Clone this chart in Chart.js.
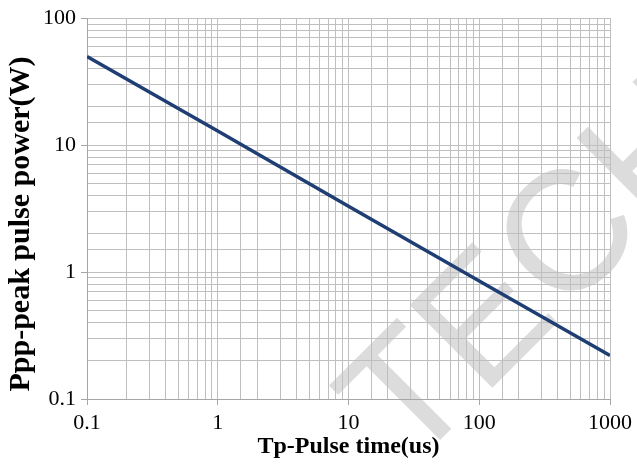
<!DOCTYPE html>
<html>
<head>
<meta charset="utf-8">
<script src="https://cdn.jsdelivr.net/npm/chart.js@4.4.1/dist/chart.umd.min.js"></script>
<style>
  html, body { margin: 0; padding: 0; background: #ffffff; }
  #wrap { width: 637px; height: 473px; }
</style>
</head>
<body>
<div id="wrap"><canvas id="c" width="637" height="473"></canvas></div>
<script>
// Data (log-log straight line)
const pulseTime = [0.1, 1, 10, 100, 1000];          // Tp (us)
const peakPower = [50, 12.9, 3.3, 0.85, 0.22];      // Ppp (W)
const xTickLabels = ['0.1', '1', '10', '100', '1000'];
const yTickLabels = ['0.1', '1', '10', '100'];
const xTitle = 'Tp-Pulse time(us)';
const yTitle = 'Ppp-peak pulse power(W)';

const points = pulseTime.map((t, i) => ({ x: t, y: peakPower[i] }));

function isDecade(v) {
  const l = Math.log10(v);
  return Math.abs(l - Math.round(l)) < 1e-9;
}
function decadeLabel(v, list) {
  if (!isDecade(v)) return '';
  const s = String(Number(v.toPrecision(6)));
  return list.includes(s) ? s : '';
}

const watermark = {
  id: 'watermark',
  beforeDraw(chart) {
    const ctx = chart.ctx;
    ctx.save();
    ctx.translate(409, 471);
    ctx.rotate(-45 * Math.PI / 180);
    ctx.font = '170px "Liberation Sans"';
    ctx.fillStyle = '#dcdcdc';
    ctx.textBaseline = 'alphabetic';
    ctx.textAlign = 'left';
    ctx.fillText('TECH', 0, 0);
    ctx.restore();
  }
};

// y-axis title drawn as canvas text, positioned like the reference
const yTitlePlugin = {
  id: 'yTitle',
  afterDraw(chart) {
    const ctx = chart.ctx;
    ctx.save();
    ctx.translate(21, 224);
    ctx.rotate(-Math.PI / 2);
    ctx.font = 'bold 30px "Liberation Serif"';
    ctx.fillStyle = '#000';
    ctx.textAlign = 'center';
    ctx.textBaseline = 'middle';
    ctx.fillText(yTitle, 0, 0);
    ctx.restore();
  }
};

const gridColor = '#bfbfbf';
const axisColor = '#a6a6a6';

new Chart(document.getElementById('c'), {
  type: 'scatter',
  data: {
    datasets: [{
      data: points,
      showLine: true,
      borderColor: '#1f3f74',
      borderWidth: 3.5,
      pointRadius: 0,
      fill: false,
      tension: 0
    }]
  },
  options: {
    responsive: false,
    animation: false,
    devicePixelRatio: 1,
    layout: { padding: { top: 15, right: 25, left: 0, bottom: 0 } },
    plugins: { legend: { display: false }, tooltip: { enabled: false } },
    scales: {
      x: {
        type: 'logarithmic',
        min: 0.1,
        max: 1000,
        afterFit(s) { s.height = 74; },
        grid: {
          color: gridColor,
          lineWidth: 1,
          tickLength: 6,
          tickColor: (c) => (c.tick && isDecade(c.tick.value)) ? axisColor : 'rgba(0,0,0,0)'
        },
        border: { color: axisColor, width: 1 },
        ticks: {
          autoSkip: false,
          maxRotation: 0,
          padding: 5,
          color: '#000',
          font: { family: '"Liberation Serif"', size: 22 },
          callback: (v) => decadeLabel(v, xTickLabels)
        },
        title: {
          display: true,
          text: xTitle,
          color: '#000',
          font: { family: '"Liberation Serif"', size: 24, weight: 'bold' },
          padding: { top: 0, bottom: 12 }
        }
      },
      y: {
        type: 'logarithmic',
        min: 0.1,
        max: 100,
        afterFit(s) { s.width = 87; },
        grid: {
          color: gridColor,
          lineWidth: 1,
          tickLength: 6,
          tickColor: (c) => (c.tick && isDecade(c.tick.value)) ? axisColor : 'rgba(0,0,0,0)'
        },
        border: { color: axisColor, width: 1 },
        ticks: {
          autoSkip: false,
          padding: 5,
          color: '#000',
          font: { family: '"Liberation Serif"', size: 22 },
          callback: (v) => decadeLabel(v, yTickLabels)
        },
        title: { display: false }
      }
    }
  },
  plugins: [watermark, yTitlePlugin]
});
</script>
</body>
</html>
